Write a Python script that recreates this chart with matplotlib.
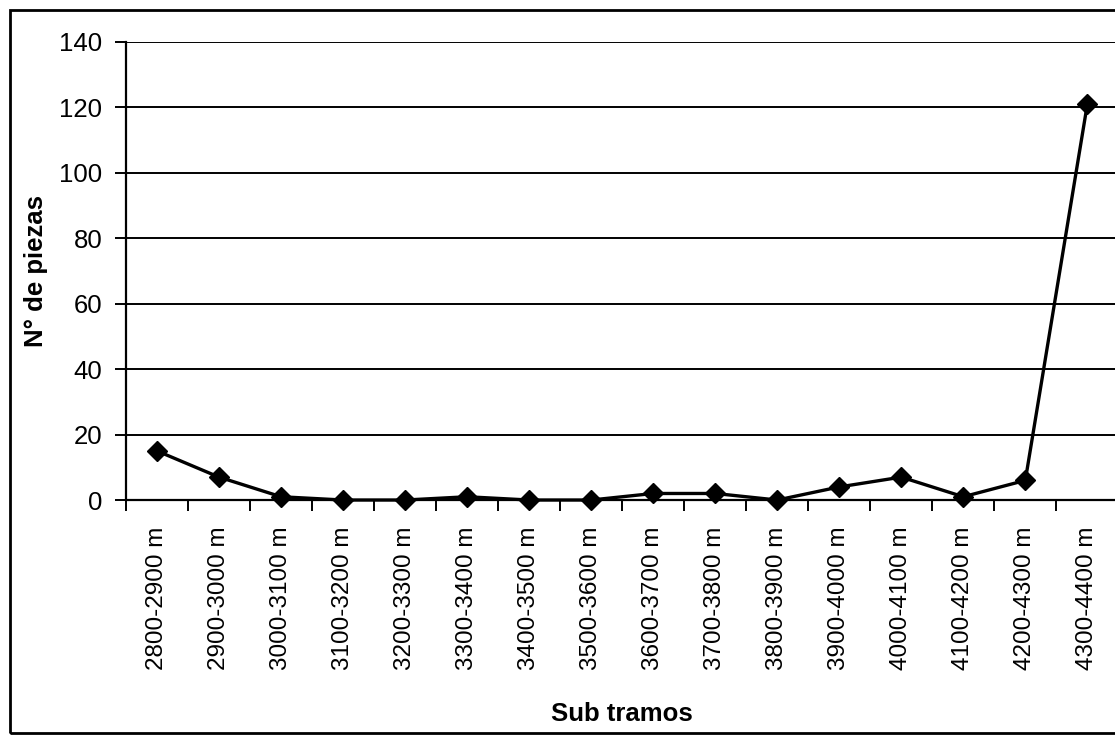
"""
N° de piezas por sub tramo.
"""

import matplotlib.pyplot as plt
from matplotlib.patches import Rectangle
import numpy as np

plt.rcParams["font.family"] = ["Liberation Sans", "DejaVu Sans"]

tramos = ["2800-2900 m", "2900-3000 m", "3000-3100 m", "3100-3200 m",
          "3200-3300 m", "3300-3400 m", "3400-3500 m", "3500-3600 m",
          "3600-3700 m", "3700-3800 m", "3800-3900 m", "3900-4000 m",
          "4000-4100 m", "4100-4200 m", "4200-4300 m", "4300-4400 m"]
piezas = [15, 7, 1, 0, 0, 1, 0, 0, 2, 2, 0, 4, 7, 1, 6, 121]
y_ticks = [0, 20, 40, 60, 80, 100, 120, 140]

fig = plt.figure(figsize=(11.15, 7.35), dpi=100)
ax = fig.add_axes([0.113, 0.3197, 0.89, 0.6232])

x = np.arange(len(tramos))
ax.plot(x, piezas, color="black", linewidth=2.4, marker="D", markersize=10,
        zorder=3, clip_on=False)

ax.set_xlim(-0.5, len(tramos) - 0.5)
ax.set_ylim(0, 140)
ax.set_yticks(y_ticks)
for v in y_ticks[1:]:
    ax.axhline(v, color="black", linewidth=1.4, zorder=1)

ax.set_xticks(x)
ax.set_xticklabels(tramos, rotation=90, fontsize=17.5)
ax.set_xticks(np.arange(-0.5, len(tramos), 1), minor=True)
ax.tick_params(axis="x", which="major", length=0, pad=19)
ax.tick_params(axis="x", which="minor", length=8, width=1.4, direction="out")
ax.tick_params(axis="y", length=8, width=1.4, labelsize=18.5, pad=9)

for side in ["top", "right"]:
    ax.spines[side].set_visible(False)
ax.spines["left"].set_linewidth(1.6)
ax.spines["bottom"].set_linewidth(1.6)

ax.set_ylabel("N° de piezas", fontsize=18.5, fontweight="bold", labelpad=8)
ax.set_xlabel("Sub tramos", fontsize=18.5, fontweight="bold", labelpad=23)

# marco exterior del gráfico
fig.patches.append(Rectangle((0.009, 0.003), 1.1, 0.984, transform=fig.transFigure,
                             fill=False, edgecolor="black", linewidth=2))

plt.savefig("out.png", dpi=100)
plt.close()
